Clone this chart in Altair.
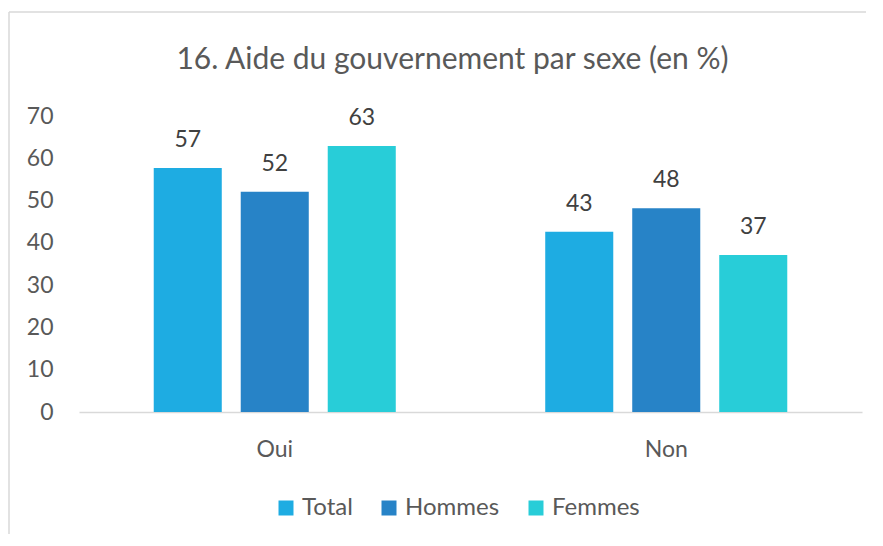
import altair as alt
import pandas as pd

categories = ["Oui", "Non"]
series = ["Total", "Hommes", "Femmes"]
values_oui = [57.7, 52.1, 62.9]
values_non = [42.6, 48.2, 37.1]
labels_oui = ["57", "52", "63"]
labels_non = ["43", "48", "37"]
colors = ["#1EACE2", "#2783C7", "#28CDD8"]
y_ticks = [0, 10, 20, 30, 40, 50, 60, 70]

rows = []
for cat, vals, labs in [("Oui", values_oui, labels_oui), ("Non", values_non, labels_non)]:
    for s, v, l in zip(series, vals, labs):
        rows.append({"cat": cat, "serie": s, "val": v, "lab": l})
df = pd.DataFrame(rows)

FONT = "Lato"
TXT = "#595959"

x_enc = alt.X("cat:N", sort=categories, title=None,
              scale=alt.Scale(paddingInner=0, paddingOuter=0),
              axis=alt.Axis(domainColor="#D9D9D9", domainWidth=1.5, ticks=False,
                            labelAngle=0, labelPadding=26, labelFontSize=23,
                            labelColor=TXT, labelFont=FONT))
xo_enc = alt.XOffset("serie:N", sort=series,
                     scale=alt.Scale(paddingInner=0.218, paddingOuter=0.859))
y_enc = alt.Y("val:Q", title=None,
              scale=alt.Scale(domain=[0, 70], nice=False),
              axis=alt.Axis(values=y_ticks, domain=False, ticks=False, grid=False,
                            labelPadding=26, labelFontSize=23, labelColor=TXT,
                            labelFont=FONT))

bars = alt.Chart(df).mark_bar().encode(
    x=x_enc, xOffset=xo_enc, y=y_enc,
    color=alt.Color("serie:N", sort=series, title=None,
                    scale=alt.Scale(domain=series, range=colors),
                    legend=alt.Legend(orient="none", direction="horizontal",
                                      legendX=195, legendY=380,
                                      symbolType="square", symbolSize=225,
                                      symbolStrokeWidth=0, labelFontSize=24,
                                      labelColor=TXT, labelFont=FONT,
                                      labelOffset=4, columnPadding=24)),
)

texts = alt.Chart(df).mark_text(baseline="alphabetic", dy=-21, fontSize=23,
                                 color="#404040", font=FONT).encode(
    x=alt.X("cat:N", sort=categories), xOffset=alt.XOffset("serie:N", sort=series),
    y="val:Q", text="lab:N")

one = pd.DataFrame({"a": [0]})
frame_top = alt.Chart(one).mark_rule(stroke="#D9D9D9", strokeWidth=1.5).encode(
    x=alt.value(-70), x2=alt.value(900), y=alt.value(-104))
frame_left = alt.Chart(one).mark_rule(stroke="#D9D9D9", strokeWidth=1.5).encode(
    x=alt.value(-70), y=alt.value(-104), y2=alt.value(700))

chart = alt.layer(frame_top, frame_left, bars, texts).properties(
    width=783, height=296,
    title=alt.TitleParams("16. Aide du gouvernement par sexe (en %)",
                          fontSize=30, font=FONT, color=TXT, fontWeight="normal",
                          anchor="middle", dx=-18, offset=-88, baseline="alphabetic"),
    autosize=alt.AutoSizeParams(type="none"),
    padding={"left": 71, "top": 108, "right": 4, "bottom": 122},
).configure_view(stroke=None)

chart.save("out.html", embed_options={"renderer": "svg", "actions": False})
